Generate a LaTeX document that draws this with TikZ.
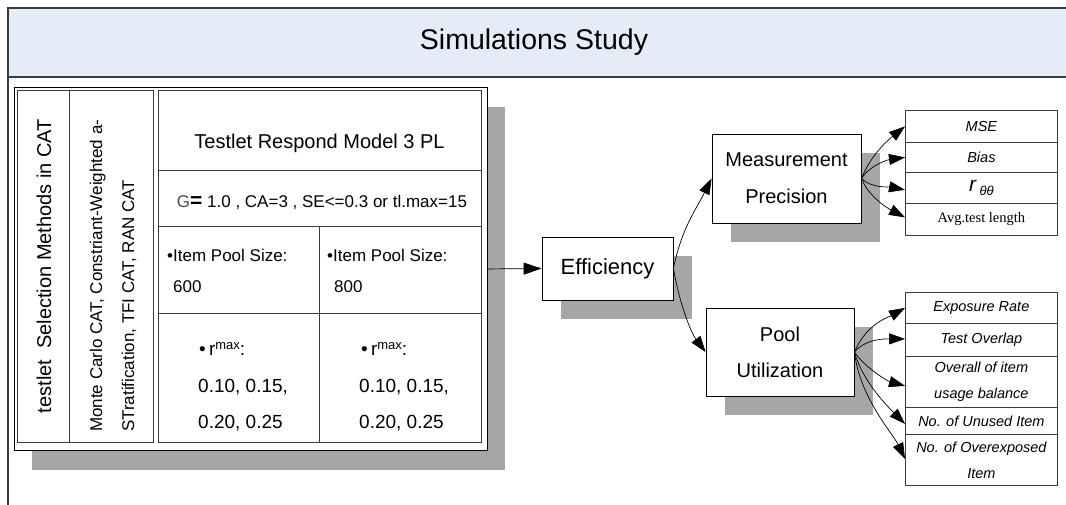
\documentclass[tikz,border=0pt]{standalone}
\usepackage{fontspec}
\setmainfont{Liberation Sans}
\newfontfamily\avgfont{Liberation Serif}
\usetikzlibrary{arrows.meta,shadows}
\definecolor{barfill}{HTML}{E6ECF7}
\definecolor{shade}{HTML}{A6A6A6}
\definecolor{rule}{HTML}{3A3A3A}
\newcommand{\fsz}[2]{\fontsize{#1}{#2}\selectfont}
\newcommand{\rmaxlabel}{\textbullet\,r\raisebox{6pt}{\fsz{13}{13}max}:}
\begin{document}
\begin{tikzpicture}[x=1pt,y=-1pt,
  box/.style={draw=black, line width=0.9pt, fill=white, inner sep=0pt},
  shadowed/.style={general shadow={fill=shade, shadow xshift=19pt, shadow yshift=-19pt}},
  cell/.style={draw=rule, line width=0.9pt},
  metric/.style={draw=rule, line width=0.8pt, fill=white, inner sep=0pt,
    minimum width=152pt, minimum height=#1, anchor=north west, align=center,
    font=\fsz{14.5}{26}\itshape},
  txt/.style={inner sep=0pt, anchor=west},
  arr/.style={line width=0.7pt, -{Triangle[length=16pt,width=11pt]}},
  bigarr/.style={line width=0.7pt, -{Triangle[length=18pt,width=12pt]}}]
\useasboundingbox[fill=white] (0,0) rectangle (1066,505);

% title bar and frame
\fill[barfill] (8,8) rectangle (1066,77);
\draw[rule, line width=1.1pt] (1066,8) -- (8,8) -- (8,505);
\draw[rule, line width=1.4pt] (8,77) -- (1066,77);
\node[font=\fsz{28.5}{34}] (title) at (534,42) {Simulations Study};

% design table
\node[box, general shadow={fill=shade, shadow xshift=18pt, shadow yshift=-20pt},
  minimum width=473pt, minimum height=363pt, anchor=north west] (tbl) at (14,87) {};
\draw[cell] (17,90) rectangle (69,442);
\draw[cell] (69,90) rectangle (153,442);
\draw[cell] (158,90) rectangle (481,442);
\draw[cell] (158,170) -- (481,170);
\draw[cell] (158,226) -- (481,226);
\draw[cell] (158,313) -- (481,313);
\draw[cell] (319,226) -- (319,442);

\node[rotate=90, inner sep=0pt, font=\fsz{20}{24}] (methods) at (44,266)
  {testlet\ \ Selection Methods in CAT};
\node[rotate=90, anchor=west, align=left, inner sep=0pt, font=\fsz{17}{32}] (methodlist)
  at (113,432) {Monte Carlo CAT, Constriant-Weighted a-\\STratification, TFI CAT, RAN CAT};

\node[inner sep=0pt, font=\fsz{20}{24}] (model) at (319.5,143) {Testlet Respond Model 3 PL};
\node[inner sep=0pt, font=\fsz{17}{20}] (params) at (322,202)
  {{\color{black!70}G}{\fsz{21}{20}\textbf{=}} 1.0 , CA=3 , SE<=0.3 or tl.max=15};

\begin{scope}[font=\fsz{17}{20}]
\node[txt] (sizeA) at (167,255) {\textbullet Item Pool Size:};
\node[txt] (sizeAval) at (173,287) {600};
\node[txt] (sizeB) at (327,255) {\textbullet Item Pool Size:};
\node[txt] (sizeBval) at (334,287) {800};
\end{scope}

\begin{scope}[font=\fsz{19}{22}]
\node[txt] (rmaxA) at (199,349) {\rmaxlabel};
\node[txt] (rvalsA1) at (198,387) {0.10, 0.15,};
\node[txt] (rvalsA2) at (198,423) {0.20, 0.25};
\node[txt] (rmaxB) at (361,349) {\rmaxlabel};
\node[txt] (rvalsB1) at (359,387) {0.10, 0.15,};
\node[txt] (rvalsB2) at (359,423) {0.20, 0.25};
\end{scope}

% outcome boxes
\node[box, shadowed, minimum width=131pt, minimum height=63pt, font=\fsz{22}{26}]
  (eff) at (607.5,268.5) {Efficiency};
\node[box, shadowed, minimum width=149pt, minimum height=89pt, align=center,
  font=\fsz{20}{37}] (meas) at (786.5,178.5) {Measurement\\Precision};
\node[box, shadowed, minimum width=148pt, minimum height=88pt, align=center,
  font=\fsz{20}{36}] (pool) at (780,352) {Pool\\Utilization};

% precision indicators
\node[metric=32pt] (mse) at (905,110) {MSE};
\node[metric=30pt] (bias) at (905,142) {Bias};
\node[metric=31pt, font=\fsz{21}{24}\itshape] (rtt) at (905,172)
  {r\,\raisebox{-4pt}{\fsz{13}{13}θθ}};
\node[metric=32pt, font=\fsz{14.5}{18}\avgfont] (avg) at (905,203) {Avg.test length};

% utilization indicators
\node[metric=31pt] (expo) at (905,292) {Exposure Rate};
\node[metric=33pt] (overlap) at (905,323) {Test Overlap};
\node[metric=51pt] (balance) at (905,356) {Overall of item\\usage balance};
\node[metric=27pt] (unused) at (905,407) {No. of Unused Item};
\node[metric=51pt] (overexp) at (905,434) {No. of Overexposed\\Item};

% connectors
\draw[bigarr] (tbl.east) -- (eff.west);
\draw[arr] (eff.east) .. controls +(8,-40) and +(-15,30) .. (meas.west);
\draw[arr] (eff.east) .. controls +(6,35) and +(-15,-20) .. (pool.west);

\draw[arr] (meas.east) .. controls +(10,-25) and +(-15,12) .. (mse.west);
\draw[arr] (meas.east) .. controls +(10,-15) and +(-15,2) .. (bias.west);
\draw[arr] (meas.east) .. controls +(10,10) and +(-15,-3) .. ([yshift=-2pt]rtt.west);
\draw[arr] (meas.east) .. controls +(8,20) and +(-15,-8) .. ([yshift=2pt]avg.west);

\draw[arr] (pool.east) .. controls +(12,-28) and +(-18,10) .. (expo.west);
\draw[arr] (pool.east) .. controls +(12,-14) and +(-18,0) .. ([yshift=1pt]overlap.west);
\draw[arr] (pool.east) .. controls +(10,15) and +(-18,-5) .. ([yshift=-4pt]balance.west);
\draw[arr] (pool.east) .. controls +(8,30) and +(-15,-15) .. ([yshift=-3pt]unused.west);
\draw[arr] (pool.east) .. controls +(5,45) and +(-12,-25) .. ([yshift=1pt]overexp.west);
\end{tikzpicture}
\end{document}
